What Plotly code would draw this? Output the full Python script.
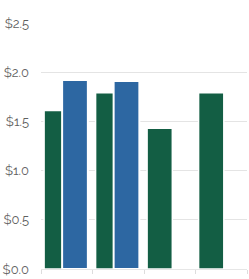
import plotly.graph_objects as go

categories = ["A", "B", "C", "D"]
series_green = [1.61, 1.79, 1.43, 1.79]
series_blue = [1.92, 1.91, None, None]
y_ticks = [0.0, 0.5, 1.0, 1.5, 2.0, 2.5]
y_tick_labels = ["$0.0", "$0.5", "$1.0", "$1.5", "$2.0", "$2.5"]

GREEN = "#135e44"
BLUE = "#2d67a2"

fig = go.Figure()
fig.add_trace(go.Bar(x=categories, y=series_green, width=0.49, offset=-0.44,
                     marker=dict(color=GREEN, line=dict(color="white", width=1.5)),
                     showlegend=False))
fig.add_trace(go.Bar(x=categories, y=series_blue, width=0.50, offset=-0.09,
                     marker=dict(color=BLUE, line=dict(color="white", width=2)),
                     showlegend=False))

fig.update_layout(
    width=249, height=279,
    margin=dict(l=41, r=2, t=23, b=10),
    plot_bgcolor="white", paper_bgcolor="white",
    barmode="overlay",
    font=dict(family="Raleway, Lato, Open Sans, sans-serif", color="#606060", size=13),
    xaxis=dict(type="category", range=[-0.5, 3.5], showticklabels=False,
               tickson="boundaries", ticks="outside", ticklen=4, tickcolor="#dddddd",
               showline=True, linecolor="#e6e6e6", linewidth=1, showgrid=False,
               zeroline=False),
    yaxis=dict(range=[0, 2.5], tickmode="array", tickvals=y_ticks, ticktext=y_tick_labels,
               showgrid=True, gridcolor="#e4e4e4", gridwidth=1, zeroline=False,
               ticklabelstandoff=11, ticks=""),
)

fig.write_html("out.html")
